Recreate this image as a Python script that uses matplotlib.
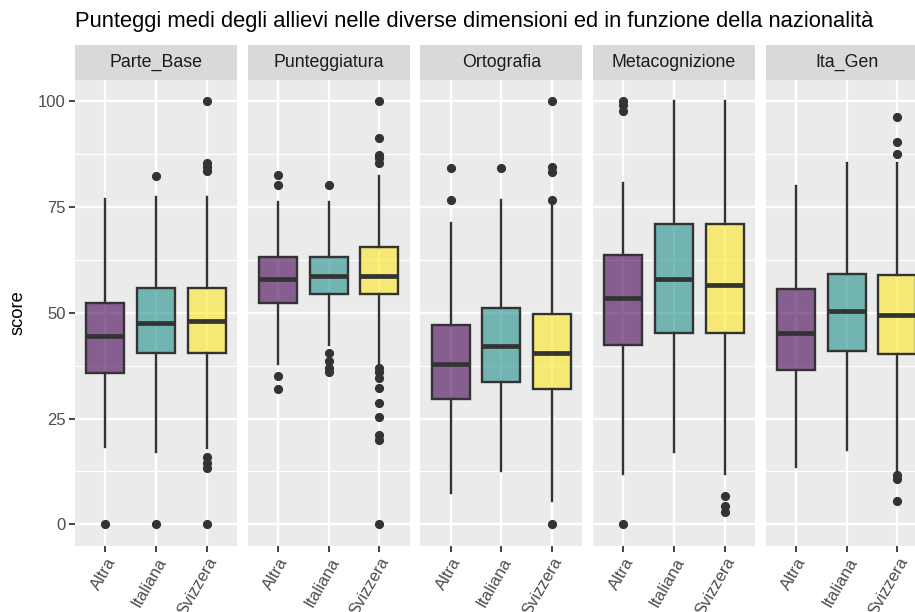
import matplotlib.pyplot as plt
from matplotlib.colors import to_rgba

plt.rcParams['font.family'] = ['Liberation Sans', 'DejaVu Sans']

# facets and groups
dimensions = ['Parte_Base', 'Punteggiatura', 'Ortografia', 'Metacognizione', 'Ita_Gen']
nationalities = ['Altra', 'Italiana', 'Svizzera']

# box statistics, one row per facet, one value per group
whisker_low = [
    [18.2, 17.2, 18.0],
    [38.0, 42.4, 37.2],
    [7.5, 12.7, 5.4],
    [11.9, 17.0, 11.8],
    [13.6, 17.6, 12.2],
]
q1 = [
    [35.7, 40.4, 40.6],
    [52.4, 54.4, 54.4],
    [29.7, 33.6, 32.0],
    [42.4, 45.1, 45.1],
    [36.5, 40.9, 40.2],
]
median = [
    [44.5, 47.5, 48.0],
    [57.9, 58.8, 58.8],
    [37.8, 42.1, 40.4],
    [53.4, 58.0, 56.5],
    [45.1, 50.4, 49.4],
]
q3 = [
    [52.3, 55.9, 55.9],
    [63.2, 63.2, 65.6],
    [47.2, 51.2, 49.7],
    [63.6, 70.9, 70.9],
    [55.7, 59.1, 58.9],
]
whisker_high = [
    [76.8, 77.4, 77.4],
    [76.1, 76.1, 82.3],
    [71.3, 76.6, 75.4],
    [80.6, 100.0, 100.0],
    [80.0, 85.4, 85.4],
]
outliers = [
    [[0.0], [82.4, 0.0], [100.0, 85.3, 84.5, 83.5, 16.0, 14.4, 13.2, 0.0]],
    [[82.5, 80.2, 35.0, 31.9], [80.2, 40.6, 38.7, 36.9, 36.1],
     [100.0, 91.4, 87.2, 86.5, 85.4, 36.9, 36.1, 34.5, 32.1, 28.6, 25.4, 21.1, 19.9, 0.0]],
    [[84.3, 76.6], [84.3], [100.0, 84.5, 83.3, 76.6, 0.0]],
    [[100.0, 99.0, 97.6, 0.0], [], [6.7, 4.3, 3.0]],
    [[], [], [96.3, 90.4, 87.6, 11.7, 10.6, 5.4]],
]

title = 'Punteggi medi degli allievi nelle diverse dimensioni ed in funzione della nazionalità'
fill_colors = ['#440154', '#21908C', '#FDE725']

W, H = 915, 612
fig = plt.figure(figsize=(W / 100, H / 100), dpi=100)

panel_left, panel_w, panel_step = 75, 162, 172.7
panel_top, panel_bottom = 80, 545.5
strip_top = 45
dark = '#333333'

for i, dim in enumerate(dimensions):
    left = panel_left + i * panel_step
    ax = fig.add_axes([left / W, 1 - panel_bottom / H, panel_w / W,
                       (panel_bottom - panel_top) / H])
    ax.set_facecolor('#EBEBEB')
    ax.set_axisbelow(True)

    stats = []
    for j, nat in enumerate(nationalities):
        stats.append(dict(label=nat, whislo=whisker_low[i][j], q1=q1[i][j],
                          med=median[i][j], q3=q3[i][j],
                          whishi=whisker_high[i][j], fliers=outliers[i][j]))
    bp = ax.bxp(stats, positions=[1, 2, 3], widths=0.75, patch_artist=True,
                showcaps=False,
                boxprops=dict(edgecolor=dark, linewidth=1.7),
                whiskerprops=dict(color=dark, linewidth=1.7),
                medianprops=dict(color=dark, linewidth=3.4, solid_capstyle='butt'),
                flierprops=dict(marker='o', markerfacecolor=dark,
                                markeredgecolor=dark, markersize=5.6))
    for patch, c in zip(bp['boxes'], fill_colors):
        patch.set_facecolor(to_rgba(c, 0.6))

    ax.set_xlim(0.4, 3.6)
    ax.set_ylim(-5, 105)
    ax.set_yticks([0, 25, 50, 75, 100])
    ax.set_yticks([12.5, 37.5, 62.5, 87.5], minor=True)
    ax.grid(which='major', color='white', linewidth=1.7)
    ax.grid(which='minor', axis='y', color='white', linewidth=0.85)
    ax.tick_params(which='minor', length=0)
    ax.tick_params(which='major', color=dark, width=1.3, length=4.2,
                   labelcolor='#4D4D4D', labelsize=12, pad=2.5)
    for s in ax.spines.values():
        s.set_visible(False)

    ax.set_xticks([1, 2, 3])
    ax.set_xticklabels(nationalities, rotation=60, ha='right',
                       rotation_mode='anchor')
    if i == 0:
        ax.set_yticklabels(['0', '25', '50', '75', '100'])
    else:
        ax.tick_params(axis='y', left=False, labelleft=False)

    # strip
    sax = fig.add_axes([left / W, 1 - panel_top / H, panel_w / W,
                        (panel_top - strip_top) / H])
    sax.set_facecolor('#D9D9D9')
    sax.set_xticks([])
    sax.set_yticks([])
    for s in sax.spines.values():
        s.set_visible(False)
    sax.text(0.5, 0.5, dim, ha='center', va='center', fontsize=12.8,
             color='#1A1A1A', transform=sax.transAxes)

fig.text(18 / W, 1 - (panel_top + panel_bottom) / 2 / H, 'score', rotation=90,
         ha='center', va='center', fontsize=13.2)
fig.text(75 / W, 1 - 22 / H, title, ha='left', va='center', fontsize=15.8)

fig.savefig('out.png', dpi=100)
